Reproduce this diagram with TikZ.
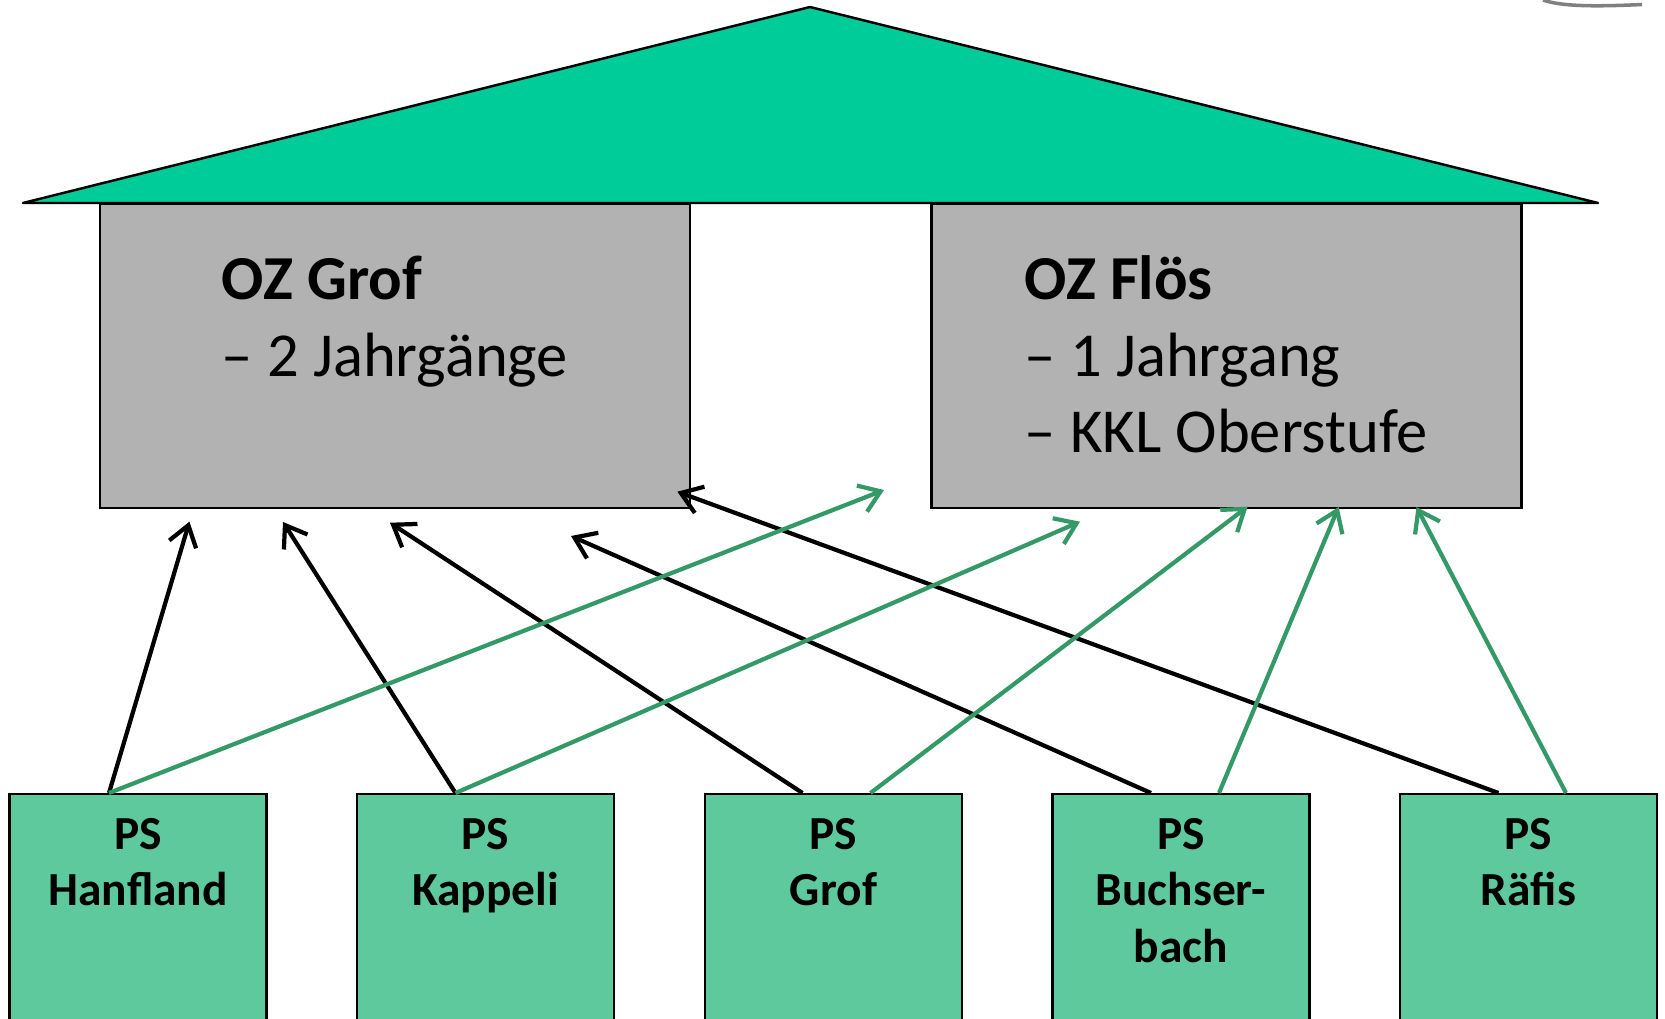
\documentclass[tikz,border=0pt]{standalone}
\usepackage{fontspec}
\setmainfont{Carlito}
\usepackage{tikz}
\usetikzlibrary{arrows.meta, positioning, calc}
\definecolor{roofgreen}{RGB}{0,204,153}
\definecolor{ozgray}{RGB}{178,178,178}
\definecolor{psgreen}{RGB}{95,201,158}
\definecolor{linkgreen}{RGB}{51,153,102}
\newcommand{\ozlines}[1]{\begin{tabular}[t]{@{}l@{}}#1\end{tabular}}
\newcommand{\pslines}[1]{\begin{tabular}[t]{@{}c@{}}#1\end{tabular}}

\begin{document}
\begin{tikzpicture}[
    oz/.style={rectangle, draw, fill=ozgray, line width=0.6pt, minimum width=5.9cm, inner ysep=2mm, text height=7.5mm, text depth=18.9mm, anchor=north, font=\fontsize{17.8}{21.9}\selectfont},
    ps/.style={rectangle, draw, fill=psgreen, line width=0.6pt, minimum width=2.57cm, inner ysep=2mm, text height=3.5mm, text depth=25mm, anchor=north, font=\fontsize{13.5}{16.2}\selectfont\bfseries},
    arrow/.style={-{Straight Barb[length=2mm,width=2.8mm]}, line width=1.2pt},
    garrow/.style={arrow, draw=linkgreen}
]
    \useasboundingbox (0,0) rectangle (16.65,-10.19);

    % Roof
    \coordinate (roofleft) at (0.23,-2.03);
    \coordinate (roofapex) at (8.10,-0.07);
    \coordinate (roofright) at (15.98,-2.03);
    \filldraw[fill=roofgreen, line width=0.7pt, line join=round] (roofleft) -- (roofapex) -- (roofright) -- cycle;
    \draw[gray, line width=1pt] (15.43,0.0) .. controls (15.6,-0.06) and (15.9,-0.07) .. (16.42,-0.045);

    % Upper schools
    \node[oz] (ozgrof) at (3.95,-2.03) {\ozlines{\textbf{OZ Grof}\\– 2 Jahrgänge}};
    \node[oz] (ozfloes) at (12.265,-2.03) {\ozlines{\textbf{OZ Flös}\\– 1 Jahrgang\\– KKL Oberstufe}};

    % Primary schools
    \node[ps] (hanfland) at (1.38,-7.93) {\pslines{PS\\Hanfland}};
    \node[ps] (kappeli) at (4.855,-7.93) {\pslines{PS\\Kappeli}};
    \node[ps] (grof) at (8.335,-7.93) {\pslines{PS\\Grof}};
    \node[ps] (buchserbach) at (11.81,-7.93) {\pslines{PS\\Buchser-\\bach}};
    \node[ps] (raefis) at (15.285,-7.93) {\pslines{PS\\Räfis}};

    % Arrow targets
    \coordinate (t1) at (1.894,-5.217);
    \coordinate (t2) at (2.83,-5.22);
    \coordinate (t3) at (3.90,-5.227);
    \coordinate (t4) at (5.71,-5.36);
    \coordinate (t5) at (6.774,-4.917);
    \coordinate (g1) at (8.84,-4.90);
    \coordinate (g2) at (10.80,-5.217);
    \coordinate (g3) at (12.476,-5.067);
    \coordinate (g4) at (13.386,-5.07);
    \coordinate (g5) at (14.165,-5.07);

    % To OZ Grof
    \draw[arrow] ([xshift=-2.9mm]hanfland.north) -- (t1);
    \draw[arrow] ([xshift=-3mm]kappeli.north) -- (t2);
    \draw[arrow] ([xshift=-3.1mm]grof.north) -- (t3);
    \draw[arrow] ([xshift=-3mm]buchserbach.north) -- (t4);
    \draw[arrow] ([xshift=-3mm]raefis.north) -- (t5);

    % To OZ Flös
    \draw[garrow] ([xshift=-2.9mm]hanfland.north) -- (g1);
    \draw[garrow] ([xshift=-3mm]kappeli.north) -- (g2);
    \draw[garrow] ([xshift=3.7mm]grof.north) -- (g3);
    \draw[garrow] ([xshift=3.8mm]buchserbach.north) -- (g4);
    \draw[garrow] ([xshift=3.75mm]raefis.north) -- (g5);
\end{tikzpicture}
\end{document}
